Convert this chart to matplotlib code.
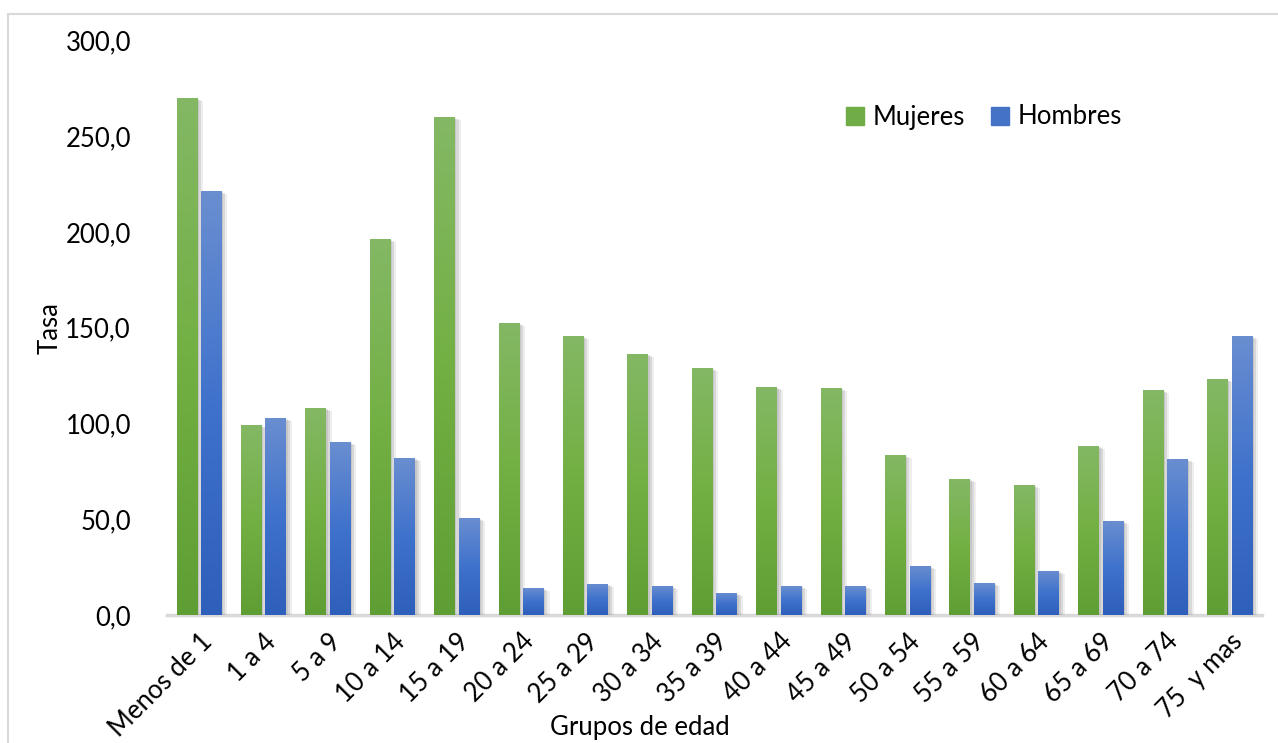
import matplotlib
matplotlib.use("Agg")
import matplotlib.pyplot as plt
import numpy as np
from matplotlib.colors import LinearSegmentedColormap
from matplotlib.patches import Rectangle
import matplotlib.patheffects as pe

categories = ["Menos de 1", "1 a 4", "5 a 9", "10 a 14", "15 a 19", "20 a 24",
              "25 a 29", "30 a 34", "35 a 39", "40 a 44", "45 a 49", "50 a 54",
              "55 a 59", "60 a 64", "65 a 69", "70 a 74", "75  y mas"]
mujeres = [270.0, 99.2, 108.1, 196.3, 260.1, 152.6, 145.8, 136.4, 129.1,
           119.1, 118.5, 83.6, 71.0, 67.9, 88.3, 117.5, 123.2]
hombres = [221.4, 102.9, 90.3, 82.0, 50.7, 14.1, 16.2, 15.2, 11.5,
           15.1, 15.1, 25.6, 16.7, 23.0, 49.1, 81.5, 145.7]
yticks = [0, 50, 100, 150, 200, 250, 300]
ytick_labels = ["0,0", "50,0", "100,0", "150,0", "200,0", "250,0", "300,0"]

FONT = ["Lato", "DejaVu Sans"]
plt.rcParams['font.family'] = FONT
FS = 18.5

fig = plt.figure(figsize=(12.78, 7.43), dpi=100)
fig.patches.append(Rectangle((8/1278, -0.05), 1.1, (743-14)/743 + 0.05,
                             transform=fig.transFigure, fill=False,
                             edgecolor="#d9d9d9", linewidth=1.5, zorder=0))
ax = fig.add_axes([167/1278, (743-615)/743, (1262-167)/1278, (615-40.5)/743])

green_cmap = LinearSegmentedColormap.from_list("g", ["#5f9e34", "#72b043", "#84b865"])
blue_cmap = LinearSegmentedColormap.from_list("b", ["#2e5fbb", "#3f72cc", "#6a8ed0"])

x = np.arange(len(categories))
w = 0.325
off = 0.19
shadow = [pe.SimplePatchShadow(offset=(1.0, -1.0), shadow_rgbFace="#808080", alpha=0.2),
          pe.SimplePatchShadow(offset=(2.5, -1.5), shadow_rgbFace="#808080", alpha=0.2),
          pe.SimplePatchShadow(offset=(4.0, -2.0), shadow_rgbFace="#909090", alpha=0.15),
          pe.Normal()]
bm = ax.bar(x - off, mujeres, width=w, color="#70ad47", zorder=2, label="Mujeres")
bh = ax.bar(x + off, hombres, width=w, color="#4472c4", zorder=2, label="Hombres")

grad = np.linspace(0, 1, 256).reshape(-1, 1)
for bars, cmap in ((bm, green_cmap), (bh, blue_cmap)):
    for p in bars:
        p.set_path_effects(shadow)
        x0, y0 = p.get_x(), p.get_y()
        ww, hh = p.get_width(), p.get_height()
        im = ax.imshow(grad, extent=[x0, x0 + ww, y0, y0 + hh], origin="lower",
                       aspect="auto", cmap=cmap, zorder=3)
        im.set_clip_path(p)

ax.set_xlim(-0.5, len(categories) - 0.5)
ax.set_ylim(0, 300)
ax.set_yticks(yticks)
ax.set_yticklabels(ytick_labels, fontsize=FS)
ax.set_xticks(x)
ax.set_xticklabels(categories, rotation=45, ha="right", va="top",
                   rotation_mode="anchor", fontsize=FS)
ax.tick_params(axis="y", length=0, pad=26)
ax.tick_params(axis="x", length=0, pad=10)
for s in ["top", "right", "left"]:
    ax.spines[s].set_visible(False)
ax.spines["bottom"].set_color("#d9d9d9")
ax.spines["bottom"].set_linewidth(2.5)
ax.spines["bottom"].set_zorder(1)

ax.set_ylabel("Tasa", fontsize=FS)
ax.yaxis.set_label_coords((63 - 167) / 1095, 0.5)
fig.text(640/1278, 1 - 727/743, "Grupos de edad", ha="center", va="center", fontsize=FS)

handles = [Rectangle((0, 0), 1, 1, color="#70ad47"), Rectangle((0, 0), 1, 1, color="#4472c4")]
leg = ax.legend(handles, ["Mujeres", "Hombres"], loc="center", bbox_to_anchor=(984/1278, 1 - 117/743),
                bbox_transform=fig.transFigure, ncol=2, frameon=False, fontsize=FS,
                handlelength=0.7, handleheight=0.7, handletextpad=0.35, columnspacing=1.0)

fig.savefig("out.png", dpi=100)
